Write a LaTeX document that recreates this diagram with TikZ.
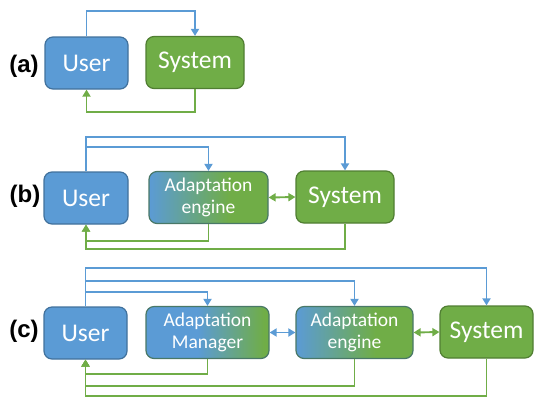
\documentclass[tikz,border=0pt]{standalone}
\usepackage{fontspec}
\setmainfont{Carlito}
\newfontfamily\labfont{Liberation Sans}
\usepackage{xcolor}
\usetikzlibrary{arrows.meta}

\definecolor{ublue}{HTML}{5B9BD5}
\definecolor{ugreen}{HTML}{70AD47}
\definecolor{ubdark}{HTML}{41719C}
\definecolor{ugdark}{HTML}{507E32}
% blue-to-green fills of the middle boxes
\pgfdeclarehorizontalshading{engshade}{100bp}{color(0bp)=(ublue); color(25bp)=(ublue); color(59bp)=(ugreen); color(100bp)=(ugreen)}
\pgfdeclarehorizontalshading{mgrshade}{100bp}{color(0bp)=(ublue); color(46bp)=(ublue); color(73bp)=(ugreen); color(100bp)=(ugreen)}

\begin{document}
\begin{tikzpicture}[x=1pt, y=-1pt,
  box/.style={rounded corners=8pt, line width=1.2pt, text=white, inner sep=0pt,
    minimum height=52pt, font=\fontsize{25.5}{30}\selectfont},
  ubox/.style={box, fill=ublue, draw=ubdark},
  sbox/.style={box, fill=ugreen, draw=ugdark},
  gbox/.style={box, shading=#1, draw=ubdark!50!ugdark, align=center,
    font=\fontsize{19.5}{22}\selectfont},
  bline/.style={draw=ublue, line width=1.9pt},
  gline/.style={draw=ugreen, line width=1.9pt},
  tip/.style={-{Triangle[width=8pt,length=7pt]}},
  dtip/.style={{Triangle[width=8pt,length=7pt]}-{Triangle[width=8pt,length=7pt]}},
  lab/.style={font=\labfont\bfseries\fontsize{24}{28}\selectfont}]
  \useasboundingbox (0,0) rectangle (534,400);

  % (a)
  \node[lab] (la) at (24,66) {(a)};
  \node[ubox, minimum width=83pt] (ua) at (86.5,63) {User};
  \node[sbox, minimum width=98pt] (sa) at (195,62.5) {System};
  \draw[bline, tip] (ua.north) -- ++(0,-25) -| (sa.north);
  \draw[gline, tip] (sa.south) -- ++(0,23) -| (ua.south);

  % (b)
  \node[lab] (lb) at (25,196) {(b)};
  \node[ubox, minimum width=84pt] (ub) at (86,198) {User};
  \node[gbox=engshade, minimum width=119pt] (eb) at (208.5,197.5) {Adaptation\\engine};
  \node[sbox, minimum width=98pt] (sb) at (345,197) {System};
  \draw[bline, tip] (ub.north) -- ++(0,-34) -| (sb.north);
  \draw[bline, tip] (ub.north) -- ++(0,-24) -| (eb.north);
  \draw[gline, tip] (eb.south) -- ++(0,17) -| (ub.south);
  \draw[gline, tip] (sb.south) -- ++(0,25) -| (ub.south);
  \draw[gline, dtip] (eb.east) -- (sb.west);

  % (c)
  \node[lab] (lc) at (24,331) {(c)};
  \node[ubox, minimum width=83pt] (uc) at (85.5,333) {User};
  \node[gbox=mgrshade, minimum width=123pt] (mc) at (207.5,332.5) {Adaptation\\Manager};
  \node[gbox=engshade, minimum width=117pt] (ec) at (354.5,332.5) {Adaptation\\engine};
  \node[sbox, minimum width=93pt] (sc) at (486.5,332) {System};
  \draw[bline, tip] (uc.north) -- ++(0,-38) -| (sc.north);
  \draw[bline, tip] (uc.north) -- ++(0,-25) -| (ec.north);
  \draw[bline, tip] (uc.north) -- ++(0,-14) -| (mc.north);
  \draw[gline, tip] (mc.south) -- ++(0,15) -| (uc.south);
  \draw[gline, tip] (ec.south) -- ++(0,27) -| (uc.south);
  \draw[gline, tip] (sc.south) -- ++(0,37) -| (uc.south);
  \draw[bline, dtip] (mc.east) -- (ec.west);
  \draw[gline, dtip] (ec.east) -- (sc.west);
\end{tikzpicture}
\end{document}
